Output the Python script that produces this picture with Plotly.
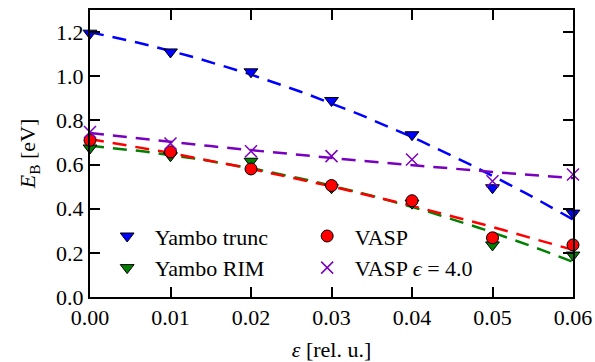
import numpy as np
import plotly.graph_objects as go

strain = [0.00, 0.01, 0.02, 0.03, 0.04, 0.05, 0.06]
yambo_trunc = [1.195, 1.11, 1.02, 0.89, 0.735, 0.495, 0.38]
yambo_rim = [0.675, 0.64, 0.615, 0.495, 0.425, 0.236, 0.19]
vasp = [0.71, 0.657, 0.58, 0.505, 0.436, 0.268, 0.236]
vasp_eps4 = [0.747, 0.695, 0.66, 0.638, 0.623, 0.524, 0.555]

x_ticks = [0.00, 0.01, 0.02, 0.03, 0.04, 0.05, 0.06]
y_ticks = [0.0, 0.2, 0.4, 0.6, 0.8, 1.0, 1.2]

series = [
    ("Yambo trunc", yambo_trunc, "#0000ff", "triangle-down", 1),
    ("Yambo RIM", yambo_rim, "#007f00", "triangle-down", 3),
    ("VASP", vasp, "#ff0000", "circle", 2),
    ("VASP <i>ϵ</i> = 4.0", vasp_eps4, "#7a00bf", "x-thin", 4),
]

FONT = "Liberation Serif"
FS = 22
fig = go.Figure()
xs = np.array(strain)
xfit = np.linspace(0, 0.06, 61)
for name, vals, col, sym, rank in series:
    c = np.polyfit(xs, np.array(vals), 2)
    fig.add_trace(go.Scatter(x=xfit, y=np.polyval(c, xfit), mode="lines",
                             line=dict(color=col, width=2.5, dash="14px,9px"),
                             showlegend=False, hoverinfo="skip"))
for name, vals, col, sym, rank in series:
    if sym == "x-thin":
        marker = dict(symbol=sym, size=12, line=dict(color=col, width=1.5), color=col)
    else:
        marker = dict(symbol=sym, size=12, color=col, line=dict(color="black", width=1))
    fig.add_trace(go.Scatter(x=strain, y=vals, mode="markers", name=name, marker=marker,
                             legendrank=rank, cliponaxis=False))

axis_common = dict(showline=True, linecolor="black", linewidth=2, mirror="ticks",
                   ticks="inside", ticklen=10, tickwidth=1.5, tickcolor="black",
                   showgrid=False, zeroline=False, automargin=False,
                   tickfont=dict(family=FONT, size=FS, color="black"))
fig.update_xaxes(range=[0, 0.06], tickvals=x_ticks, tickformat=".2f",
                 title=dict(text="<i>ε</i> [rel. u.]", font=dict(family=FONT, size=FS, color="black"), standoff=12),
                 **axis_common)
fig.update_yaxes(range=[0, 1.3], tickvals=y_ticks, tickformat=".1f",
                 title=dict(text="<i>E</i><sub>B</sub> [eV]", font=dict(family=FONT, size=FS, color="black"), standoff=14),
                 **axis_common)
fig.update_layout(
    width=595, height=362,
    margin=dict(l=90, r=22, t=10, b=65),
    plot_bgcolor="white", paper_bgcolor="white",
    font=dict(family=FONT, size=FS, color="black"),
    legend=dict(orientation="h", x=0.02, y=0.285, xanchor="left", yanchor="top",
                bgcolor="rgba(0,0,0,0)", entrywidth=140, entrywidthmode="pixels",
                font=dict(family=FONT, size=FS, color="black"), tracegroupgap=0, itemwidth=45),
    showlegend=True,
)
fig.write_html("out.html")
